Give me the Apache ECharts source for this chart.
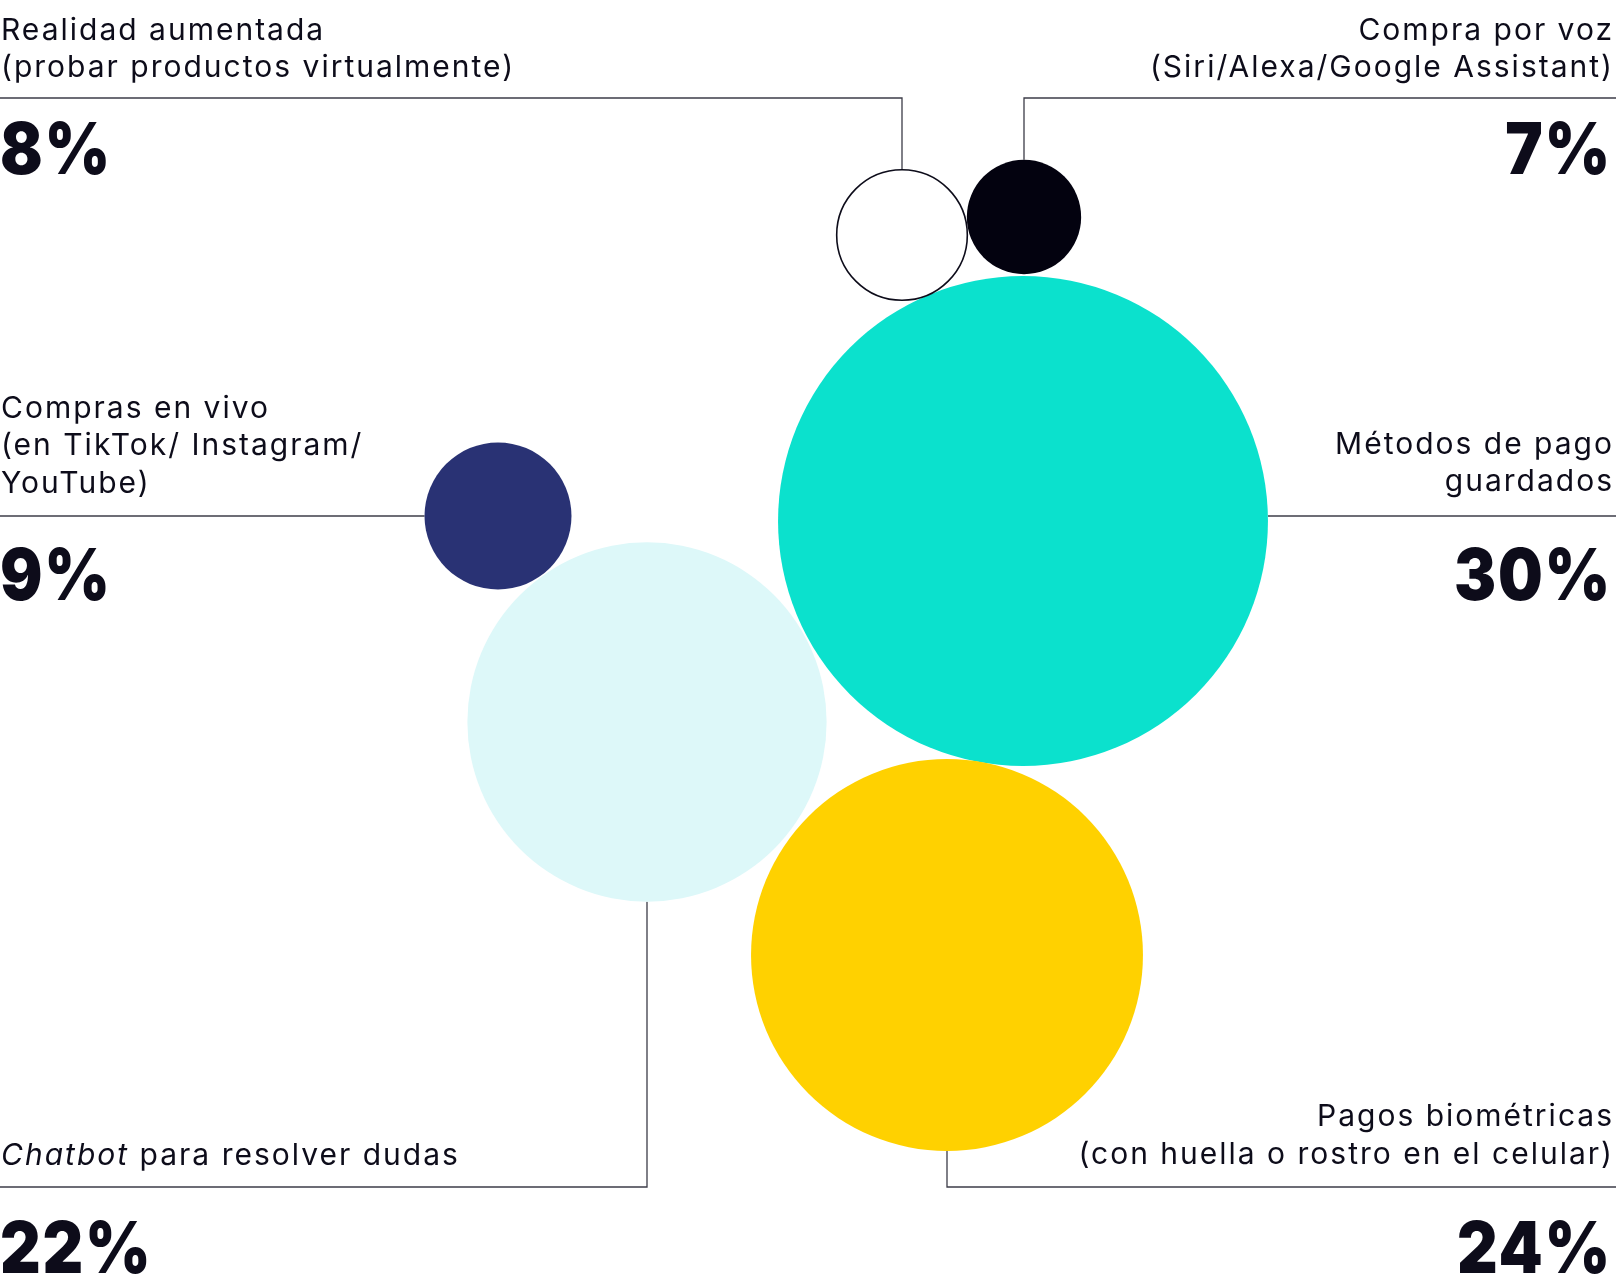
<!DOCTYPE html>
<html>
<head>
<meta charset="utf-8">
<script src="https://cdn.jsdelivr.net/npm/echarts@6/dist/echarts.min.js"></script>
<style>
html,body{margin:0;padding:0;background:#fff;}
#chart{width:1616px;height:1281px;}
</style>
</head>
<body>
<div id="chart"></div>
<script>
// ---- data ----
const categories = [
  'Realidad aumentada\n(probar productos virtualmente)',
  'Compra por voz\n(Siri/Alexa/Google Assistant)',
  'Compras en vivo\n(en TikTok/ Instagram/\nYouTube)',
  'Métodos de pago\nguardados',
  'Chatbot para resolver dudas',
  'Pagos biométricas\n(con huella o rostro en el celular)'
];
const values = [8, 7, 9, 30, 22, 24];
const valueLabels = ['8%', '7%', '9%', '30%', '22%', '24%'];

// ---- layout (pixel space of the hidden axes) ----
const W = 1616, H = 1281;
const centerX = [902, 1024, 498, 1023, 647, 947];
const centerY = [235, 217, 516, 521, 722, 955];
const pxPerPoint = 16.33;          // bubble diameter per percentage point
const colors = ['#ffffff', '#03020f', '#293274', '#0be1cd', '#ddf8f9', '#ffd100'];
const borders = ['#0d0c1a', null, null, null, null, null];
const side = ['L', 'R', 'L', 'R', 'L', 'R'];
const ruleY = [98, 98, 516, 516, 1187, 1187];
const connect = ['top', 'top', 'side', 'side', 'bottom', 'bottom'];
const textCenterY = [49.5, 49.5, 446, 463.5, 1156, 1136];
const numberCenterY = [152, 152, 578, 578, 1251, 1251];

const FONT = 'Inter, "Noto Sans", sans-serif';
const INK = '#0d0c1a';
const LINE = '#3c3c48';

// label tracking (the original typesetting is loosely spaced)
(function () {
  const P = CanvasRenderingContext2D.prototype;
  const needs = ctx => /(^|\s)30px/.test(ctx.font);
  const oFill = P.fillText, oMeasure = P.measureText;
  P.fillText = function (t, x, y, m) {
    if (!needs(this)) return m === undefined ? oFill.call(this, t, x, y) : oFill.call(this, t, x, y, m);
    const prev = this.letterSpacing; this.letterSpacing = '2px';
    const res = m === undefined ? oFill.call(this, t, x, y) : oFill.call(this, t, x, y, m);
    this.letterSpacing = prev; return res;
  };
  P.measureText = function (t) {
    if (!needs(this)) return oMeasure.call(this, t);
    const prev = this.letterSpacing; this.letterSpacing = '2px';
    const res = oMeasure.call(this, t);
    this.letterSpacing = prev; return res;
  };
})();

const r = i => values[i] * pxPerPoint / 2;

const linesData = categories.map((c, i) => {
  const edgeX = side[i] === 'L' ? 0 : W;
  let pts;
  if (connect[i] === 'top') {
    pts = [[edgeX, ruleY[i]], [centerX[i], ruleY[i]], [centerX[i], centerY[i] - r(i)]];
  } else if (connect[i] === 'bottom') {
    pts = [[edgeX, ruleY[i]], [centerX[i], ruleY[i]], [centerX[i], centerY[i] + r(i)]];
  } else {
    const ex = side[i] === 'L' ? centerX[i] - r(i) : centerX[i] + r(i);
    pts = [[edgeX, ruleY[i]], [ex, ruleY[i]]];
  }
  return { coords: pts };
});

const order = [3, 5, 4, 2, 0, 1];
const scatterData = order.map(i => ({
  value: [centerX[i], centerY[i], values[i]],
  name: categories[i],
  itemStyle: {
    color: colors[i],
    borderColor: borders[i] || 'transparent',
    borderWidth: borders[i] ? 1.6 : 0,
    opacity: 1
  }
}));

const graphics = [];
categories.forEach((c, i) => {
  const isL = side[i] === 'L';
  const x = isL ? 1 : 1614;
  let style;
  if (i === 4) {
    style = {
      text: '{i|Chatbot} para resolver dudas',
      rich: { i: { fontStyle: 'italic', fontSize: 30, fontFamily: FONT, fill: INK } }
    };
  } else {
    style = { text: c };
  }
  Object.assign(style, {
    x: x, y: textCenterY[i],
    fontSize: 30, fontFamily: FONT, fontWeight: 400,
    lineHeight: 37.5, fill: INK,
    align: isL ? 'left' : 'right', verticalAlign: 'middle'
  });
  graphics.push({ type: 'text', z: 10, style: style });
  const nx = isL ? 0 : 1612;
  graphics.push({
    type: 'text', z: 10,
    x: nx, y: numberCenterY[i],
    scaleX: 0.875,
    style: {
      x: 0, y: 0,
      text: valueLabels[i],
      fontSize: 72, fontFamily: FONT, fontWeight: 900, fill: INK,
      align: isL ? 'left' : 'right', verticalAlign: 'middle'
    }
  });
});

const chart = echarts.init(document.getElementById('chart'), null, { renderer: 'canvas' });
chart.setOption({
  animation: false,
  backgroundColor: '#ffffff',
  grid: { left: 0, right: 0, top: 0, bottom: 0 },
  xAxis: { type: 'value', min: 0, max: W, show: false },
  yAxis: { type: 'value', min: 0, max: H, inverse: true, show: false },
  series: [
    {
      type: 'lines',
      coordinateSystem: 'cartesian2d',
      polyline: true,
      silent: true,
      z: 1,
      lineStyle: { color: LINE, width: 1.3, opacity: 1 },
      data: linesData
    },
    {
      type: 'scatter',
      z: 2,
      symbol: 'circle',
      symbolSize: v => v[2] * pxPerPoint,
      data: scatterData
    }
  ],
  graphic: graphics
});
</script>
</body>
</html>
